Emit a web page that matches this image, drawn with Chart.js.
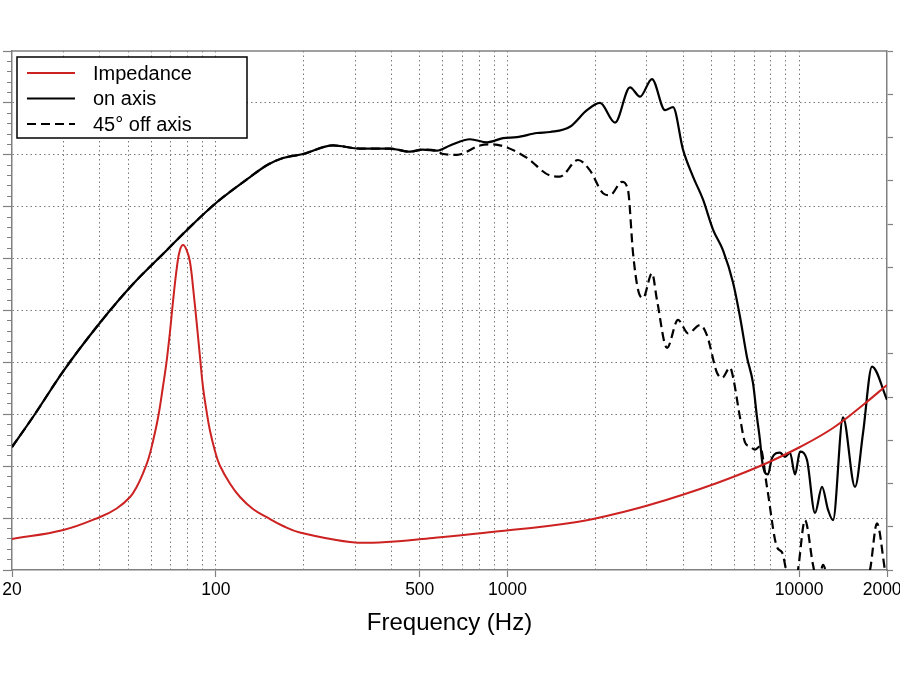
<!DOCTYPE html>
<html>
<head>
<meta charset="utf-8">
<script src="https://cdn.jsdelivr.net/npm/chart.js@4"></script>
<style>
  html, body { margin: 0; padding: 0; background: #fff; }
  body { width: 900px; height: 675px; overflow: hidden; position: relative; }
  #wrap { position: absolute; left: -30px; top: 0; width: 960px; height: 675px; }
</style>
</head>
<body>
<div id="wrap"><canvas id="fr"></canvas></div>
<script>
// impedance (ohm, right axis)
const impFreq = [20, 30, 40.1, 45.7, 50.8, 53.5, 56.3, 58.7, 60.9, 63.5, 65.9, 67.8, 69.6, 71.5, 73.6, 75.3, 77.2, 79.4, 81.5, 83.7, 86.2, 88.2, 90.3, 93, 95.5, 99.3, 103, 112, 121, 134, 150, 170, 194, 288, 374, 555, 824, 1730, 2570, 3410, 4570, 5930, 7750, 10060, 13060, 16550, 20000];
const impVals = [3.58, 4.62, 6.13, 7.11, 8.44, 9.6, 11.21, 12.83, 14.91, 17.8, 21.27, 24.16, 27.51, 31.45, 35.14, 36.99, 37.57, 36.99, 35.64, 32.37, 28.13, 24.66, 21.19, 18.27, 16.07, 13.76, 12.14, 9.94, 8.44, 7.05, 6.07, 5.09, 4.34, 3.24, 3.2, 3.7, 4.28, 5.55, 6.82, 7.98, 9.36, 10.75, 12.37, 14.22, 16.42, 19.08, 21.39];

// on axis response (dB)
const onFreq = [20, 23.6, 30, 40, 52, 68, 79.6, 101, 131, 150, 170, 199, 252, 312, 395, 463, 513, 573, 635, 744, 850, 965, 1077, 1262, 1400, 1637, 1872, 2075, 2336, 2630, 2846, 3128, 3467, 3693, 3996, 4324, 4678, 5064, 5481, 5930, 6266, 6622, 6945, 7167, 7338, 7455, 7633, 7816, 8067, 8592, 8939, 9300, 9675, 10064, 10634, 11329, 11974, 12556, 13060, 14134, 15537, 16552, 17768, 20000];
const onVals = [71.85, 74.74, 79.17, 83.8, 87.55, 90.83, 92.76, 95.45, 97.86, 99.02, 99.69, 100.08, 100.9, 100.6, 100.6, 100.3, 100.5, 100.4, 100.9, 101.5, 101.2, 101.6, 101.7, 102.1, 102.2, 102.7, 104.3, 105.0, 103.1, 106.5, 105.6, 107.3, 104.3, 104.6, 100.5, 97.9, 95.7, 92.8, 90.8, 87.7, 84.4, 80.5, 78.0, 74.7, 72.5, 70.6, 69.4, 69.2, 70.8, 71.3, 70.9, 71.3, 69.2, 71.4, 70.6, 65.5, 68.0, 65.8, 64.8, 74.7, 68.0, 73.2, 79.6, 76.4];

// 45 deg off axis (dB)
const offFreq = [20, 23.6, 30, 40, 52, 68, 79.6, 101, 131, 150, 170, 199, 252, 312, 395, 463, 513, 573, 596, 671, 805, 892, 996, 1166, 1399, 1513, 1744, 1917, 2125, 2245, 2469, 2588, 2694, 2802, 2915, 3128, 3254, 3522, 3841, 4158, 4570, 4830, 5226, 5438, 5791, 5930, 6266, 6519, 6782, 7054, 7338, 7755, 8392, 8730, 9082, 9450, 9906, 10469, 11151, 11600, 12070, 12754, 14930, 17490, 18483, 19684, 20000];
const offVals = [71.85, 74.74, 79.17, 83.8, 87.55, 90.83, 92.76, 95.45, 97.86, 99.02, 99.69, 100.08, 100.9, 100.6, 100.6, 100.3, 100.5, 100.4, 100.1, 100.0, 100.9, 101.0, 100.7, 99.7, 98.0, 97.9, 99.5, 98.5, 96.3, 96.1, 97.4, 96.6, 90.5, 87.0, 86.2, 88.6, 86.0, 81.4, 84.1, 82.8, 83.6, 82.6, 79.0, 78.5, 79.5, 78.6, 74.7, 72.3, 71.9, 71.6, 71.9, 68.0, 62.2, 61.7, 59.5, 57.0, 60.0, 64.8, 60.5, 58.5, 60.5, 58.0, 55.0, 60.0, 64.5, 60.0, 59.0];

// axes
const freqTicks = [20, 30, 40, 50, 60, 70, 80, 90, 100, 200, 300, 400, 500, 600, 700, 800, 900,
  1000, 2000, 3000, 4000, 5000, 6000, 7000, 8000, 9000, 10000, 20000];
const freqLabels = [20, 100, 500, 1000, 10000, 20000];
const dbTicks = [];
for (let v = 60; v <= 110; v++) dbTicks.push(v);
const ohmTicks = [0, 5, 10, 15, 20, 25, 30, 35, 40, 45, 50, 55, 60];

const FONT = '"Liberation Sans", Arial, Helvetica, sans-serif';
const AXIS = '#808080';
const GRID = '#7a7a7a';

const pts = (f, v) => f.map((x, i) => ({ x: x, y: v[i] }));

// legend in a box, top left of the plot
const boxLegend = {
  id: 'boxLegend',
  afterDraw(chart) {
    const { ctx, chartArea } = chart;
    const x = chartArea.left + 5, y = chartArea.top + 6;
    ctx.save();
    // top frame line
    ctx.strokeStyle = AXIS;
    ctx.lineWidth = 1.5;
    ctx.beginPath();
    ctx.moveTo(chartArea.left, chartArea.top);
    ctx.lineTo(chartArea.right, chartArea.top);
    ctx.stroke();

    ctx.fillStyle = '#fff';
    ctx.fillRect(x, y, 230, 81);
    ctx.strokeStyle = '#000';
    ctx.lineWidth = 1.5;
    ctx.strokeRect(x, y, 230, 81);
    ctx.font = '20px ' + FONT;
    ctx.textBaseline = 'middle';
    chart.data.datasets.forEach((ds, i) => {
      const ry = y + 16 + i * 25.5;
      ctx.strokeStyle = ds.borderColor;
      ctx.lineWidth = ds.borderWidth;
      ctx.setLineDash(ds.borderDash || []);
      ctx.beginPath();
      ctx.moveTo(x + 10, ry);
      ctx.lineTo(x + 58, ry);
      ctx.stroke();
      ctx.setLineDash([]);
      ctx.fillStyle = '#000';
      ctx.fillText(ds.label, x + 76, ry + 1);
    });
    ctx.restore();
  }
};

new Chart(document.getElementById('fr'), {
  type: 'line',
  data: {
    datasets: [{
      label: 'Impedance',
      data: pts(impFreq, impVals),
      yAxisID: 'y1',
      borderColor: '#cc2222',
      borderWidth: 2,
      pointRadius: 0,
      tension: 0.4
    }, {
      label: 'on axis',
      data: pts(onFreq, onVals),
      yAxisID: 'y',
      borderColor: '#000',
      borderWidth: 2.2,
      pointRadius: 0,
      cubicInterpolationMode: 'monotone'
    }, {
      label: '45° off axis',
      data: pts(offFreq, offVals),
      yAxisID: 'y',
      borderColor: '#000',
      borderWidth: 2.2,
      borderDash: [9, 5],
      pointRadius: 0,
      cubicInterpolationMode: 'monotone'
    }]
  },
  options: {
    responsive: true,
    maintainAspectRatio: false,
    animation: false,
    devicePixelRatio: 1,
    layout: { padding: { top: 51, left: 0, right: 0, bottom: 0 } },
    plugins: { legend: { display: false }, tooltip: { enabled: false } },
    scales: {
      x: {
        type: 'logarithmic',
        min: 20,
        max: 20000,
        afterBuildTicks: s => { s.ticks = freqTicks.map(v => ({ value: v })); },
        afterFit: s => { s.height = 105; },
        ticks: {
          autoSkip: false,
          maxRotation: 0,
          padding: 3,
          color: '#000',
          font: { family: FONT, size: 17.5 },
          callback: v => freqLabels.includes(v) ? String(v) : ''
        },
        grid: {
          lineWidth: 1,
          color: c => (c.tick && (c.tick.value === 20 || c.tick.value === 20000)) ? 'rgba(0,0,0,0)' : GRID,
          tickLength: 7,
          tickWidth: 1.2,
          tickColor: c => (c.tick && freqLabels.includes(c.tick.value)) ? AXIS : 'rgba(0,0,0,0)'
        },
        border: { color: AXIS, width: 1.5, dash: [1.5, 3] },
        title: {
          display: true,
          text: 'Frequency (Hz)',
          color: '#000',
          font: { family: FONT, size: 24 },
          padding: { top: 4, bottom: 37 }
        }
      },
      y: {
        position: 'left',
        min: 60,
        max: 110,
        afterBuildTicks: s => { s.ticks = dbTicks.map(v => ({ value: v })); },
        afterFit: s => { s.width = 42; },
        ticks: { display: false },
        grid: {
          lineWidth: 1,
          color: c => (c.tick && c.tick.value % 5 === 0 && c.tick.value > 60 && c.tick.value < 110) ? GRID : 'rgba(0,0,0,0)',
          tickLength: 9,
          tickWidth: 1.2,
          tickColor: AXIS,
          tickBorderDash: c => (c.tick && c.tick.value % 5 === 0) ? [] : [0, 4, 10]
        },
        border: { color: AXIS, width: 1.5, dash: [1.5, 3] }
      },
      y1: {
        position: 'right',
        min: 0,
        max: 60,
        afterBuildTicks: s => { s.ticks = ohmTicks.map(v => ({ value: v })); },
        afterFit: s => { s.width = 43; },
        ticks: { display: false },
        grid: {
          drawOnChartArea: false,
          tickLength: 6,
          tickWidth: 1.2,
          tickColor: AXIS
        },
        border: { color: AXIS, width: 1.5 }
      }
    }
  },
  plugins: [boxLegend]
});
</script>
</body>
</html>
